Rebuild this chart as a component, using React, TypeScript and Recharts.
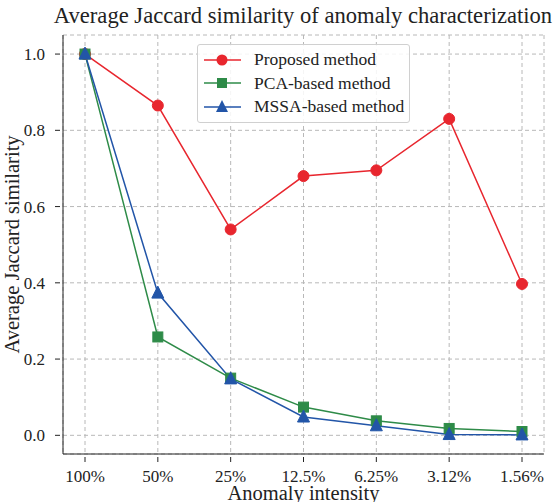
import { LineChart, Line, XAxis, YAxis, CartesianGrid } from "recharts";

const intensities = ["100%", "50%", "25%", "12.5%", "6.25%", "3.12%", "1.56%"];
const proposed = [1.0, 0.865, 0.54, 0.68, 0.695, 0.83, 0.397];
const pcaBased = [1.0, 0.258, 0.15, 0.074, 0.038, 0.018, 0.01];
const mssaBased = [1.0, 0.373, 0.148, 0.048, 0.025, 0.002, 0.001];
const yTicks = [0, 0.2, 0.4, 0.6, 0.8, 1.0];

const data = intensities.map((name, i) => ({
  name,
  proposed: proposed[i],
  pca: pcaBased[i],
  mssa: mssaBased[i],
}));

const RED = "#e8262e";
const GREEN = "#2e8b48";
const BLUE = "#2255a8";
const FONT = "'Liberation Serif', 'Times New Roman', serif";

const Circle = (props: any) => {
  const { cx, cy } = props;
  return <circle cx={cx} cy={cy} r={5.5} fill={RED} stroke={RED} />;
};
const Square = (props: any) => {
  const { cx, cy } = props;
  return <rect x={cx - 5} y={cy - 5} width={10} height={10} fill={GREEN} stroke={GREEN} />;
};
const Triangle = (props: any) => {
  const { cx, cy } = props;
  return (
    <polygon
      points={`${cx},${cy - 7} ${cx - 6},${cy + 5} ${cx + 6},${cy + 5}`}
      fill={BLUE}
      stroke={BLUE}
    />
  );
};

// inward tick marks + serif labels, like the matplotlib original
const XTick = (props: any) => {
  const { x, y, payload } = props;
  return (
    <g>
      <line x1={x} y1={y} x2={x} y2={y - 5} stroke="#222" />
      <text x={x} y={y + 20} textAnchor="middle" fill="#222" style={{ fontFamily: FONT, fontSize: 17 }}>
        {payload.value}
      </text>
    </g>
  );
};
const YTick = (props: any) => {
  const { x, y, payload } = props;
  return (
    <g>
      <line x1={x} y1={y} x2={x + 5} y2={y} stroke="#222" />
      <text x={x - 10} y={y + 6} textAnchor="end" fill="#222" style={{ fontFamily: FONT, fontSize: 17 }}>
        {payload.value.toFixed(1)}
      </text>
    </g>
  );
};

const legendItems = [
  { label: "Proposed method", color: RED, shape: "circle" },
  { label: "PCA-based method", color: GREEN, shape: "square" },
  { label: "MSSA-based method", color: BLUE, shape: "triangle" },
];

const LegendBox = () => (
  <div
    style={{
      position: "absolute",
      left: 197,
      top: 44,
      width: 213,
      height: 79,
      boxSizing: "border-box",
      border: "1px solid #d0d0d0",
      borderRadius: 3,
      background: "rgba(255,255,255,0.85)",
      padding: "3px 6px 3px 5px",
      fontFamily: FONT,
      fontSize: 17.5,
      color: "#222",
    }}
  >
    {legendItems.map((it) => (
      <div key={it.label} style={{ display: "flex", alignItems: "center", height: 23.5 }}>
        <svg width={40} height={16} style={{ marginRight: 11, flexShrink: 0 }}>
          <line x1={1} y1={8} x2={38} y2={8} stroke={it.color} strokeWidth={1.5} />
          {it.shape === "circle" && <circle cx={19} cy={8} r={5.5} fill={it.color} />}
          {it.shape === "square" && <rect x={14} y={3} width={10} height={10} fill={it.color} />}
          {it.shape === "triangle" && <polygon points="19,1 13,13 25,13" fill={it.color} />}
        </svg>
        <span style={{ whiteSpace: "nowrap" }}>{it.label}</span>
      </div>
    ))}
  </div>
);

export default function App() {
  return (
    <div style={{ position: "absolute", left: 0, top: 0, width: 558, height: 502, background: "#fff", fontFamily: FONT }}>
      <div
        style={{
          position: "absolute",
          left: 48,
          top: 3,
          width: 510,
          textAlign: "center",
          fontFamily: FONT,
          fontSize: 22.6,
          color: "#222",
          whiteSpace: "nowrap",
        }}
      >
        Average Jaccard similarity of anomaly characterization
      </div>
      <LineChart
        width={558}
        height={502}
        data={data}
        margin={{ top: 35, right: 14, bottom: 0, left: 0 }}
      >
        <CartesianGrid stroke="#b8b8b8" strokeDasharray="4 3" />
        <XAxis
          dataKey="name"
          padding={{ left: 22, right: 22 }}
          stroke="#222"
          tickLine={false}
          tick={<XTick />}
          height={48}
          interval={0}
          label={{
            value: "Anomaly intensity",
            position: "insideBottom",
            offset: 2,
            fill: "#222",
            fontSize: 20.5,
            fontFamily: FONT,
          }}
        />
        <XAxis xAxisId="top" orientation="top" dataKey="name" height={0} tick={false} tickLine={false} stroke="#222" />
        <YAxis
          domain={[-0.049, 1.05]}
          ticks={yTicks}
          type="number"
          width={63}
          stroke="#222"
          tickLine={false}
          tick={<YTick />}
          label={{
            value: "Average Jaccard similarity",
            angle: -90,
            position: "insideLeft",
            offset: 12,
            fill: "#222",
            fontSize: 20.5,
            fontFamily: FONT,
            style: { textAnchor: "middle" },
          }}
        />
        <YAxis yAxisId="right" orientation="right" width={0} tick={false} tickLine={false} stroke="#222" />
        <Line
          dataKey="proposed"
          stroke={RED}
          strokeWidth={1.5}
          dot={<Circle />}
          activeDot={false}
          isAnimationActive={false}
        />
        <Line
          dataKey="pca"
          stroke={GREEN}
          strokeWidth={1.5}
          dot={<Square />}
          activeDot={false}
          isAnimationActive={false}
        />
        <Line
          dataKey="mssa"
          stroke={BLUE}
          strokeWidth={1.5}
          dot={<Triangle />}
          activeDot={false}
          isAnimationActive={false}
        />
      </LineChart>
      <LegendBox />
    </div>
  );
}
